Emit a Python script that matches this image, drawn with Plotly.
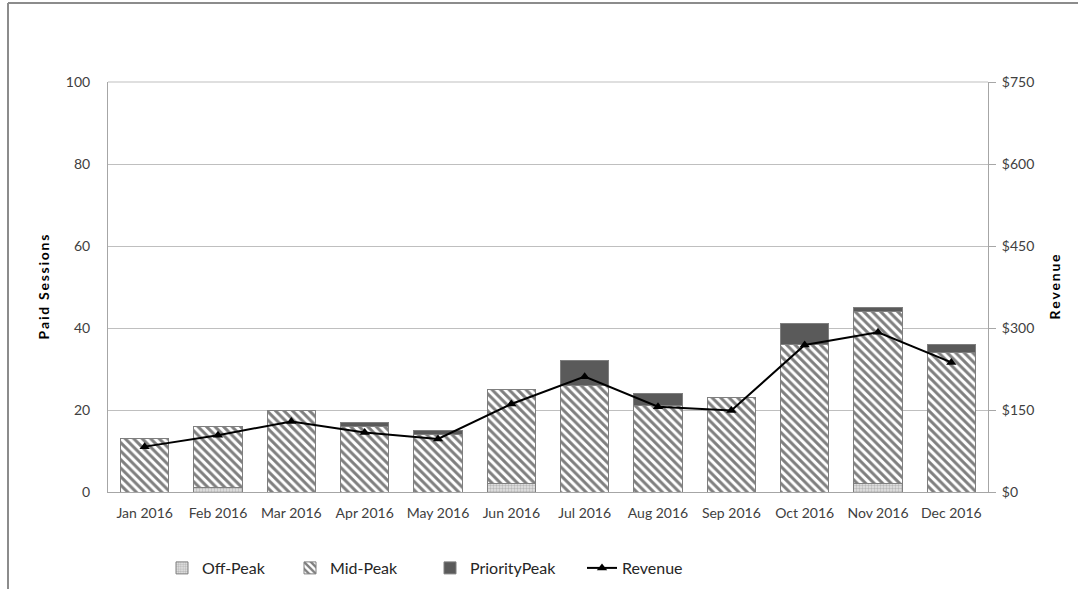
import plotly.graph_objects as go

months = ["Jan 2016", "Feb 2016", "Mar 2016", "Apr 2016", "May 2016", "Jun 2016",
          "Jul 2016", "Aug 2016", "Sep 2016", "Oct 2016", "Nov 2016", "Dec 2016"]
off_peak = [0, 1, 0, 0, 0, 2, 0, 0, 0, 0, 2, 0]
mid_peak = [13, 15, 20, 16, 14, 23, 26, 21, 23, 36, 42, 34]
priority_peak = [0, 0, 0, 1, 1, 0, 6, 3, 0, 5, 1, 2]
revenue = [83, 104, 129, 109, 97, 161, 211, 156, 149, 269, 292, 237]

left_ticks = [0, 20, 40, 60, 80, 100]
right_ticks = [0, 150, 300, 450, 600, 750]
right_labels = ["$0", "$150", "$300", "$450", "$600", "$750"]

FONT = "Lato, 'Open Sans', sans-serif"
outline = dict(color="#7f7f7f", width=1)

L, R, T, B = 108, 90, 82, 97
W, H = 1078, 589
pw, ph = W - L - R, H - T - B


def px(x):
    return (x - L) / pw


def py(y):
    return (H - B - y) / ph


def spaced(s):
    return "\u2009".join(list(s))


fig = go.Figure()
fig.add_trace(go.Bar(
    x=months, y=off_peak, name="Off-Peak", legend="legend",
    marker=dict(color="white", line=outline,
                pattern=dict(shape=".", fgcolor="#8c8c8c", bgcolor="#e6e6e6", size=3, solidity=0.5)),
))
fig.add_trace(go.Bar(
    x=months, y=mid_peak, name="Mid-Peak", legend="legend2",
    marker=dict(color="white", line=outline,
                pattern=dict(shape="\\", fgcolor="black", bgcolor="white", size=6, solidity=0.5)),
))
fig.add_trace(go.Bar(
    x=months, y=priority_peak, name="PriorityPeak", legend="legend3",
    marker=dict(color="#5a5a5a", line=outline),
))
fig.add_trace(go.Scatter(
    x=months, y=revenue, name="Revenue", yaxis="y2", mode="lines+markers", legend="legend4",
    line=dict(color="black", width=2),
    marker=dict(symbol="triangle-up", size=9, color="black"),
))

leg_common = dict(orientation="h", yanchor="middle", xanchor="left", y=py(568),
                  font=dict(size=16, color="#262626"), itemwidth=30,
                  bgcolor="rgba(0,0,0,0)")

fig.update_layout(
    width=W, height=H,
    margin=dict(l=L, r=R, t=T, b=B, autoexpand=False),
    paper_bgcolor="white", plot_bgcolor="white",
    barmode="stack", bargap=0.345,
    font=dict(family=FONT, size=14, color="#404040"),
    showlegend=True,
    legend=dict(x=px(162), **leg_common),
    legend2=dict(x=px(290), **leg_common),
    legend3=dict(x=px(430), **leg_common),
    legend4=dict(x=px(582), **leg_common),
    xaxis=dict(range=[-0.5, 11.5], showline=True, linecolor="#a6a6a6", linewidth=1, ticks="",
               tickfont=dict(size=14, color="#404040"), ticklabelstandoff=8,
               automargin=False, fixedrange=True),
    yaxis=dict(range=[0, 100], tickvals=left_ticks, showgrid=True, gridcolor="#bfbfbf",
               gridwidth=1, showline=True, linecolor="#a6a6a6", ticks="",
               ticklabelstandoff=14, zeroline=False, automargin=False,
               title=dict(text="<b>" + spaced("Paid Sessions") + "</b>",
                          font=dict(size=14, color="black"), standoff=12)),
    yaxis2=dict(range=[0, 750], tickvals=right_ticks, ticktext=right_labels,
                overlaying="y", side="right", showgrid=False, showline=True,
                linecolor="#a6a6a6", ticks="outside", ticklen=7, tickcolor="#a6a6a6",
                ticklabelstandoff=3, zeroline=False, automargin=False,
                title=dict(text="<b>" + spaced("Revenue") + "</b>",
                           font=dict(size=14, color="black"), standoff=16)),
    shapes=[
        dict(type="line", xref="paper", yref="paper", x0=px(8), x1=px(8), y0=py(3), y1=py(592),
             line=dict(color="#8c8c8c", width=2)),
        dict(type="line", xref="paper", yref="paper", x0=px(8), x1=px(1080), y0=py(3), y1=py(3),
             line=dict(color="#8c8c8c", width=2)),
        dict(type="line", xref="paper", yref="paper", x0=0, x1=1, y0=1, y1=1,
             line=dict(color="#bfbfbf", width=1)),
    ],
)

fig.write_html("out.html")
